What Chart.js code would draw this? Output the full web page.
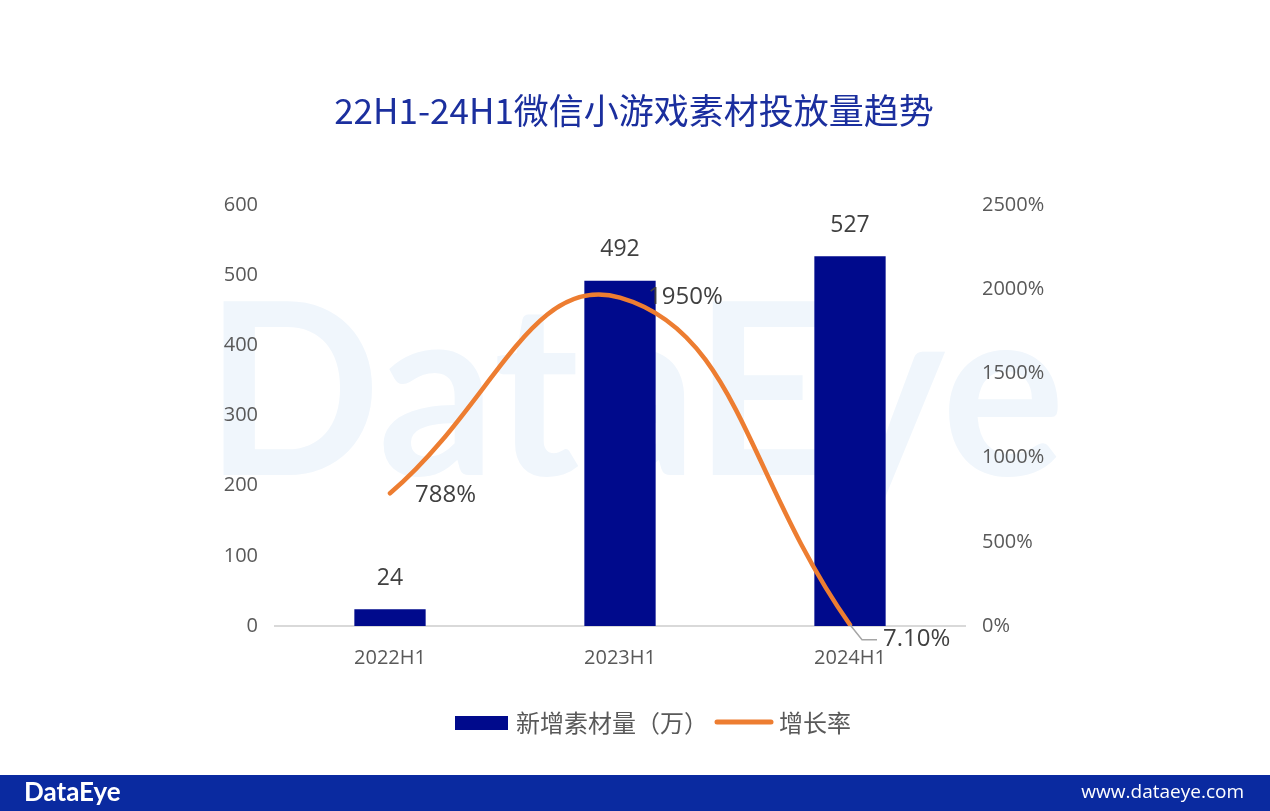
<!DOCTYPE html>
<html><head><meta charset="utf-8">
<script src="https://cdn.jsdelivr.net/npm/chart.js@4/dist/chart.umd.min.js"></script>
<style>html,body{margin:0;padding:0;background:#fff;}#wrap{width:1270px;height:811px;position:relative;}</style>
</head><body><div id="wrap"><canvas id="c" width="1270" height="811"></canvas></div>
<script>
const categories = ['2022H1', '2023H1', '2024H1'];
const barValues = [24, 492, 527];
const growthValues = [788, 1950, 7.1];
const growthLabels = ['788%', '1950%', '7.10%'];
const leftTicks = [0, 100, 200, 300, 400, 500, 600];
const rightTicks = [0, 500, 1000, 1500, 2000, 2500];
const titleText = '22H1-24H1微信小游戏素材投放量趋势';
const barName = '新增素材量（万）';
const lineName = '增长率';

const CJK = '"Microsoft YaHei","Noto Sans CJK SC","Open Sans",sans-serif';
const LAT = '"Open Sans","Noto Sans CJK SC",sans-serif';

const decor = {
  id: 'decor',
  beforeDraw(chart) {
    const ctx = chart.ctx;
    ctx.save();
    ctx.fillStyle = '#fff';
    ctx.fillRect(0, 0, 1270, 811);
    // watermark
    ctx.font = 'bold 240px Lato, sans-serif';
    const w = ctx.measureText('DataEye').width;
    ctx.translate(205, 475);
    ctx.scale(860 / w, 1);
    ctx.fillStyle = '#f0f6fc';
    ctx.textBaseline = 'alphabetic';
    ctx.fillText('DataEye', 0, 0);
    ctx.restore();
    ctx.save();
    // title
    ctx.fillStyle = '#1b2f9e';
    ctx.font = '35px ' + CJK;
    ctx.textAlign = 'center';
    ctx.textBaseline = 'middle';
    ctx.fillText(titleText, 634, 111);
    // footer
    ctx.fillStyle = '#0a2aa0';
    ctx.fillRect(0, 775, 1270, 36);
    ctx.fillStyle = '#fff';
    ctx.textAlign = 'left';
    ctx.font = 'bold 26px Lato, sans-serif';
    ctx.fillText('DataEye', 24, 793);
    ctx.textAlign = 'right';
    ctx.font = '19px ' + LAT;
    ctx.fillText('www.dataeye.com', 1244, 793);
    // legend
    ctx.fillStyle = '#000a8c';
    ctx.fillRect(455, 716, 53, 14);
    ctx.fillStyle = '#595959';
    ctx.textAlign = 'left';
    ctx.font = '24px ' + CJK;
    ctx.fillText(barName, 516, 723);
    ctx.strokeStyle = '#ED7D31';
    ctx.lineWidth = 5;
    ctx.lineCap = 'round';
    ctx.beginPath(); ctx.moveTo(717, 722); ctx.lineTo(771, 722); ctx.stroke();
    ctx.fillText(lineName, 779, 723);
    ctx.restore();
  },
  afterDatasetsDraw(chart) {
    const ctx = chart.ctx;
    ctx.save();
    ctx.fillStyle = '#404040';
    ctx.textBaseline = 'middle';
    ctx.font = '23px ' + LAT;
    const bm = chart.getDatasetMeta(0);
    bm.data.forEach((b, i) => {
      ctx.textAlign = 'center';
      ctx.fillText(String(barValues[i]), b.x, b.y - 31);
    });
    ctx.font = '24px ' + LAT;
    const lm = chart.getDatasetMeta(1);
    ctx.textAlign = 'left';
    lm.data.forEach((p, i) => {
      if (i === 0) ctx.fillText(growthLabels[i], p.x + 25, p.y + 2);
      else if (i === 1) ctx.fillText(growthLabels[i], p.x + 28, p.y);
      else {
        ctx.strokeStyle = '#a6a6a6';
        ctx.lineWidth = 1.5;
        ctx.beginPath();
        ctx.moveTo(p.x, p.y);
        ctx.lineTo(p.x + 12, p.y + 15);
        ctx.lineTo(p.x + 27, p.y + 15);
        ctx.stroke();
        ctx.fillText(growthLabels[i], p.x + 33, p.y + 14);
      }
    });
    ctx.restore();
  }
};

new Chart(document.getElementById('c'), {
  data: {
    labels: categories,
    datasets: [
      { type: 'bar', label: barName, data: barValues, yAxisID: 'y', backgroundColor: '#000a8c', barPercentage: 0.62, categoryPercentage: 0.5, order: 2 },
      { type: 'line', label: lineName, data: growthValues, yAxisID: 'y1', borderColor: '#ED7D31', borderWidth: 4.5, pointRadius: 0, tension: 0.45, borderCapStyle: 'round', order: 1 }
    ]
  },
  options: {
    responsive: false,
    animation: false,
    layout: { padding: { top: 205, left: 0, right: 0, bottom: 0 } },
    plugins: { legend: { display: false }, tooltip: { enabled: false }, title: { display: false } },
    scales: {
      x: {
        grid: { display: false },
        border: { display: true, color: '#d9d9d9', width: 2 },
        ticks: { color: '#595959', font: { family: LAT, size: 20 }, padding: 12 },
        afterFit(s) { s.height = 185; }
      },
      y: {
        position: 'left', min: 0, max: 600,
        afterBuildTicks(s) { s.ticks = leftTicks.map(v => ({ value: v })); },
        grid: { display: false }, border: { display: false },
        ticks: { color: '#595959', font: { family: LAT, size: 20 }, padding: 9 },
        afterFit(s) { s.width = 275; }
      },
      y1: {
        position: 'right', min: 0, max: 2500,
        afterBuildTicks(s) { s.ticks = rightTicks.map(v => ({ value: v })); },
        grid: { display: false }, border: { display: false },
        ticks: { color: '#595959', font: { family: LAT, size: 20 }, padding: 9, callback: v => v + '%' },
        afterFit(s) { s.width = 305; }
      }
    }
  },
  plugins: [decor]
});
</script></body></html>
